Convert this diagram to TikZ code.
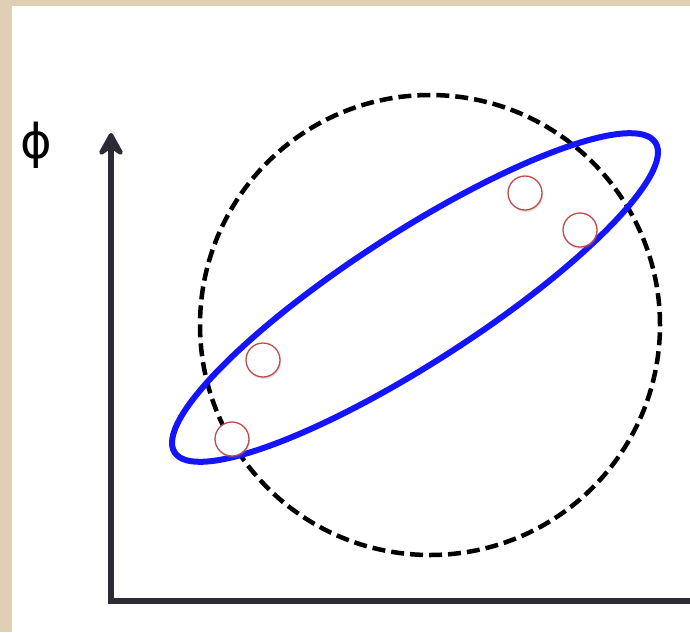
\documentclass[tikz,border=0pt]{standalone}
\usepackage{fontspec}
\setmainfont{Liberation Sans}
\newfontfamily\phifont{DejaVu Sans}
\usetikzlibrary{arrows.meta,shadows}
\definecolor{parch}{RGB}{223,207,180}
\definecolor{axisc}{RGB}{43,43,53}
\definecolor{blueell}{RGB}{20,20,255}
\definecolor{ptred}{RGB}{195,75,75}
\tikzset{
  axisline/.style={draw=axisc, line width=6pt},
  dashcircle/.style={draw=black, line width=4.5pt, dash pattern=on 13pt off 6pt},
  blueline/.style={draw=blueell, line width=6pt},
  datapt/.style={circle, draw=ptred, line width=1.3pt, fill=white, minimum size=34pt, inner sep=0pt,
    drop shadow={opacity=0.25, shadow xshift=1pt, shadow yshift=-2pt}},
}
\begin{document}
\begin{tikzpicture}[x=1pt,y=-1pt]
\useasboundingbox (0,0) rectangle (690,632);
\fill[parch] (0,0) rectangle (690,632);
\fill[white] (12,6) rectangle (690,632);
% axes
\coordinate (ytip) at (111,133);
\coordinate (origin) at (111,601);
\coordinate (xend) at (690,601);
\draw[axisline, {Stealth[length=29pt,width=32pt,inset=11pt,round]}-] (ytip) -- (origin) -- (xend);
\node[font=\phifont\fontsize{48}{48}\selectfont, anchor=center, inner sep=0pt] (phi) at (36,145) {ϕ};
% dashed circle
\coordinate (cc) at (430,325);
\draw[dashcircle] (cc) circle [radius=230pt];
% blue ellipse
\coordinate (ec) at (415,297.5);
\draw[blueline, rotate around={32.8:(ec)}] (ec) ellipse [x radius=286pt, y radius=65pt];
% data points
\node[datapt] (p1) at (525,193) {};
\node[datapt] (p2) at (580,230) {};
\node[datapt] (p3) at (263,360) {};
\node[datapt] (p4) at (232,439) {};
\end{tikzpicture}
\end{document}
